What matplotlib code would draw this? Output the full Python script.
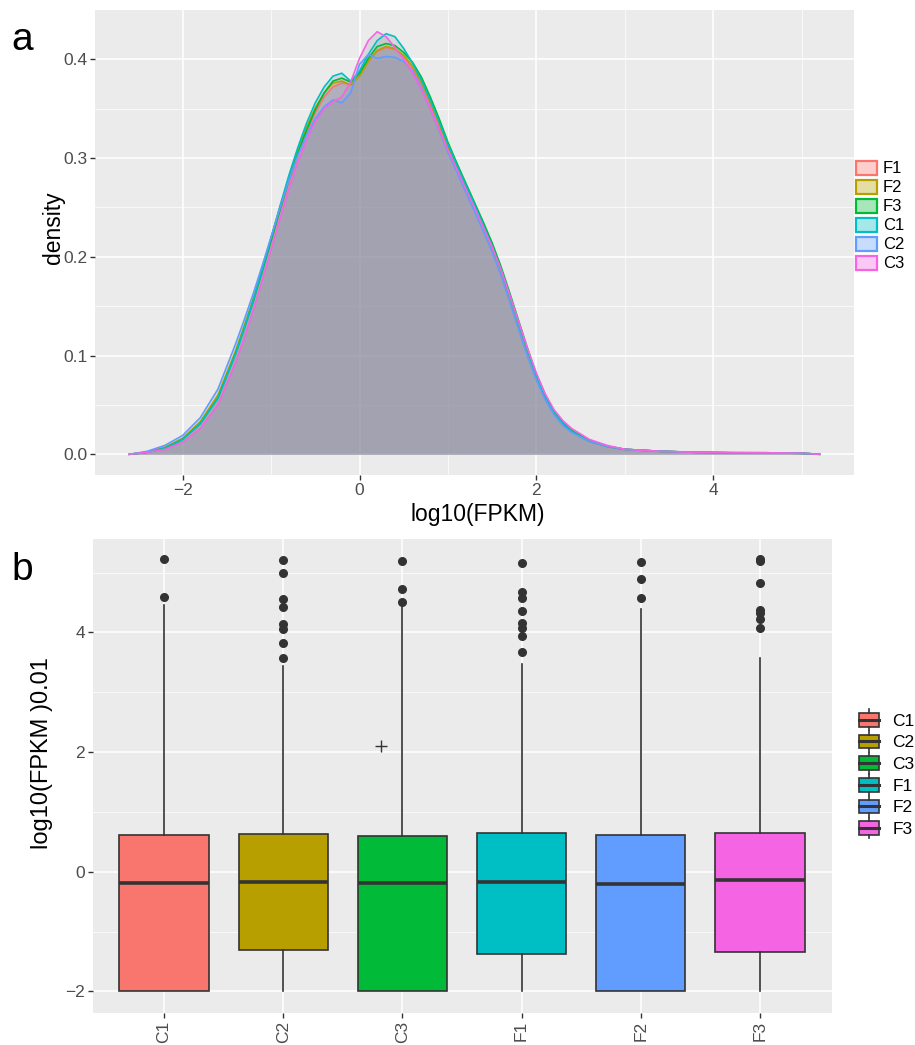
import numpy as np
import matplotlib
matplotlib.use('Agg')
import matplotlib.pyplot as plt
from matplotlib.patches import Patch, Rectangle
from matplotlib.lines import Line2D
from matplotlib.legend_handler import HandlerBase
from matplotlib.colors import to_rgba

plt.rcParams['font.family'] = ['Liberation Sans', 'DejaVu Sans']

# ---- panel a: density of log10(FPKM) per sample ----
xgrid = [-2.6, -2.4, -2.2, -2.0, -1.8, -1.6,
         -1.4, -1.3, -1.2, -1.1, -1.0, -0.9, -0.8, -0.7, -0.6, -0.5,
         -0.4, -0.3, -0.2, -0.1, 0.0, 0.1, 0.2, 0.3, 0.4, 0.5,
         0.6, 0.7, 0.8, 0.9, 1.0, 1.1, 1.2, 1.3,
         1.4, 1.5, 1.6, 1.7, 1.8, 1.9, 2.0, 2.1, 2.2, 2.3, 2.4,
         2.6, 2.8, 3.0,
         3.4, 3.8, 4.2, 4.6, 5.0, 5.2]

dens_F1 = [0.000, 0.002, 0.007, 0.016, 0.032, 0.058,
           0.103, 0.129, 0.156, 0.186, 0.216, 0.246, 0.275, 0.302, 0.326, 0.346,
           0.362, 0.372, 0.376, 0.375, 0.384, 0.398, 0.408, 0.412, 0.410, 0.403,
           0.391, 0.375, 0.355, 0.333, 0.311, 0.291, 0.271, 0.251,
           0.231, 0.210, 0.186, 0.159, 0.131, 0.104, 0.079, 0.058, 0.042, 0.031, 0.023,
           0.013, 0.008, 0.005,
           0.003, 0.002, 0.0015, 0.0015, 0.001, 0.000]
dens_F2 = [0.000, 0.002, 0.007, 0.016, 0.033, 0.060,
           0.105, 0.131, 0.158, 0.188, 0.219, 0.250, 0.280, 0.307, 0.331, 0.351,
           0.366, 0.376, 0.378, 0.374, 0.383, 0.398, 0.409, 0.413, 0.411, 0.404,
           0.393, 0.377, 0.357, 0.335, 0.312, 0.292, 0.272, 0.252,
           0.231, 0.209, 0.185, 0.158, 0.130, 0.103, 0.078, 0.057, 0.041, 0.030, 0.023,
           0.013, 0.008, 0.005,
           0.003, 0.002, 0.0015, 0.0012, 0.001, 0.000]
dens_F3 = [0.000, 0.002, 0.006, 0.015, 0.031, 0.057,
           0.102, 0.128, 0.155, 0.185, 0.216, 0.247, 0.277, 0.304, 0.328, 0.349,
           0.366, 0.378, 0.381, 0.377, 0.386, 0.401, 0.413, 0.416, 0.414, 0.407,
           0.397, 0.382, 0.362, 0.340, 0.316, 0.295, 0.275, 0.255,
           0.235, 0.214, 0.190, 0.163, 0.135, 0.107, 0.081, 0.060, 0.043, 0.032, 0.024,
           0.014, 0.008, 0.005,
           0.003, 0.002, 0.0015, 0.0015, 0.001, 0.000]
dens_C1 = [0.000, 0.002, 0.006, 0.015, 0.031, 0.057,
           0.102, 0.128, 0.156, 0.187, 0.219, 0.251, 0.282, 0.310, 0.335, 0.356,
           0.372, 0.383, 0.386, 0.378, 0.388, 0.405, 0.419, 0.426, 0.423, 0.411,
           0.396, 0.379, 0.359, 0.337, 0.314, 0.293, 0.273, 0.253,
           0.232, 0.211, 0.187, 0.160, 0.132, 0.105, 0.079, 0.058, 0.042, 0.031, 0.023,
           0.013, 0.008, 0.005,
           0.003, 0.002, 0.0015, 0.0015, 0.001, 0.000]
dens_C2 = [0.000, 0.003, 0.009, 0.019, 0.037, 0.066,
           0.112, 0.137, 0.163, 0.191, 0.220, 0.249, 0.277, 0.302, 0.323, 0.340,
           0.352, 0.359, 0.356, 0.366, 0.395, 0.405, 0.401, 0.403, 0.402, 0.398,
           0.388, 0.371, 0.350, 0.328, 0.306, 0.286, 0.266, 0.246,
           0.226, 0.205, 0.181, 0.154, 0.126, 0.099, 0.075, 0.055, 0.040, 0.029, 0.022,
           0.013, 0.008, 0.005,
           0.003, 0.002, 0.0015, 0.0015, 0.001, 0.000]
dens_C3 = [0.000, 0.002, 0.005, 0.012, 0.026, 0.050,
           0.093, 0.118, 0.146, 0.176, 0.207, 0.238, 0.268, 0.295, 0.318, 0.337,
           0.350, 0.357, 0.362, 0.377, 0.401, 0.419, 0.428, 0.423, 0.412, 0.400,
           0.386, 0.369, 0.350, 0.329, 0.308, 0.289, 0.269, 0.250,
           0.230, 0.210, 0.187, 0.161, 0.134, 0.107, 0.082, 0.061, 0.045, 0.034, 0.026,
           0.015, 0.009, 0.005,
           0.003, 0.002, 0.0018, 0.0015, 0.001, 0.000]

dens_names = ['F1', 'F2', 'F3', 'C1', 'C2', 'C3']
dens_values = [dens_F1, dens_F2, dens_F3, dens_C1, dens_C2, dens_C3]
dens_colors = ['#F8766D', '#B79F00', '#00BA38', '#00BFC4', '#619CFF', '#F564E3']

# ---- panel b: boxplot summary per sample ----
box_names = ['C1', 'C2', 'C3', 'F1', 'F2', 'F3']
box_colors = ['#F8766D', '#B79F00', '#00BA38', '#00BFC4', '#619CFF', '#F564E3']
box_q1 = [-2.0, -1.30, -2.0, -1.38, -2.0, -1.34]
box_med = [-0.18, -0.165, -0.19, -0.175, -0.20, -0.14]
box_q3 = [0.615, 0.627, 0.605, 0.64, 0.61, 0.655]
box_lo = [-2.0, -2.0, -2.0, -2.0, -2.0, -2.0]
box_hi = [4.46, 3.44, 4.46, 3.47, 4.39, 3.58]
box_out = [
    [4.59, 5.22],
    [3.58, 3.82, 4.05, 4.14, 4.42, 4.56, 5.0, 5.21],
    [4.51, 4.73, 5.19],
    [3.68, 3.94, 4.08, 4.15, 4.36, 4.57, 4.67, 5.16],
    [4.57, 4.89, 5.18],
    [4.07, 4.22, 4.32, 4.38, 4.82, 5.2, 5.22],
]
cross_x = [2.82]
cross_y = [2.10]

W, H = 915, 1045
fig = plt.figure(figsize=(W / 100, H / 100), dpi=100)
fig.patch.set_facecolor('white')

def px_axes(l, t, r, b):
    return fig.add_axes([l / W, 1 - b / H, (r - l) / W, (b - t) / H])

def gg_style(ax):
    ax.set_facecolor('#EBEBEB')
    for s in ax.spines.values():
        s.set_visible(False)
    ax.grid(True, which='major', color='white', lw=1.1)
    ax.grid(True, which='minor', color='white', lw=0.5)
    ax.set_axisbelow(True)
    ax.tick_params(which='major', length=3.5, width=1, color='#333333',
                   labelcolor='#4D4D4D', labelsize=12.5, pad=2)
    ax.tick_params(which='minor', length=0)

# panel a
ax1 = px_axes(95, 10, 854, 475)
gg_style(ax1)
for name, vals, col in zip(dens_names, dens_values, dens_colors):
    ax1.fill_between(xgrid, vals, 0, color='#8A8A9C', alpha=0.2, lw=0)
    ax1.plot(xgrid, vals, color=col, lw=1.2)
ax1.set_xlim(-2.99, 5.59)
ax1.set_ylim(-0.021, 0.45)
ax1.set_xticks([-2, 0, 2, 4])
ax1.set_xticks([-1, 1, 3, 5], minor=True)
ax1.set_yticks([0.0, 0.1, 0.2, 0.3, 0.4])
ax1.set_yticks([0.05, 0.15, 0.25, 0.35], minor=True)
ax1.set_yticklabels(['0.0', '0.1', '0.2', '0.3', '0.4'])

handles1 = [Patch(facecolor=to_rgba(c, 0.35), edgecolor=c, lw=1.6) for c in dens_colors]
fig.legend(handles1, dens_names, loc='center left',
           bbox_to_anchor=(853 / W, 1 - 216 / H), frameon=False,
           fontsize=12, handlelength=1.25, handleheight=0.9,
           labelspacing=0.2, handletextpad=0.35, borderpad=0.2, borderaxespad=0)

fig.text(478 / W, 1 - 514 / H, 'log10(FPKM)', fontsize=16.5, ha='center', va='center')
fig.text(54 / W, 1 - 228 / H, 'density', fontsize=16.5, rotation=90, ha='center', va='center')
fig.text(22 / W, 1 - 40 / H, 'a', fontsize=28, ha='center', va='center')

# panel b
ax2 = px_axes(92.5, 539, 831.5, 1013)
gg_style(ax2)
stats = []
for i, n in enumerate(box_names):
    stats.append(dict(label=n, q1=box_q1[i], med=box_med[i], q3=box_q3[i],
                      whislo=box_lo[i], whishi=box_hi[i], fliers=box_out[i]))
pos = np.arange(1, len(box_names) + 1)
bp = ax2.bxp(stats, positions=pos, widths=0.75, patch_artist=True, showcaps=False,
             boxprops=dict(edgecolor='#333333', lw=1.2),
             medianprops=dict(color='#333333', lw=2.6, solid_capstyle='butt'),
             whiskerprops=dict(color='#333333', lw=1.2),
             flierprops=dict(marker='o', markerfacecolor='#333333',
                             markeredgecolor='#333333', markersize=5.5))
for patch, c in zip(bp['boxes'], box_colors):
    patch.set_facecolor(c)
ax2.plot(cross_x, cross_y, marker='+', color='#333333', ms=8, mew=1, ls='none')
ax2.set_xlim(0.4, 6.6)
ax2.set_ylim(-2.36, 5.56)
ax2.set_xticks(pos)
ax2.set_xticklabels(box_names, rotation=90)
ax2.set_yticks([-2, 0, 2, 4])
ax2.set_yticks([-1, 1, 3, 5], minor=True)
ax2.tick_params(axis='x', which='minor', length=0)

class BoxKey(HandlerBase):
    def create_artists(self, legend, orig, xd, yd, width, height, fontsize, trans):
        x0, y0 = -xd, -yd
        fc = orig.get_facecolor()
        box = Rectangle((x0, y0), width, height, facecolor=fc,
                        edgecolor='#333333', lw=1.2, transform=trans)
        mid = Line2D([x0, x0 + width], [y0 + height / 2] * 2, color='#333333',
                     lw=2.2, transform=trans)
        cx = x0 + width / 2
        w_up = Line2D([cx, cx], [y0 + height, y0 + height + 0.25 * height],
                      color='#333333', lw=1.2, transform=trans)
        w_dn = Line2D([cx, cx], [y0, y0 - 0.25 * height],
                      color='#333333', lw=1.2, transform=trans)
        return [box, mid, w_up, w_dn]

handles2 = [Patch(facecolor=c) for c in box_colors]
fig.legend(handles2, box_names, loc='center left',
           bbox_to_anchor=(856 / W, 1 - 775 / H), frameon=False,
           fontsize=12.5, handlelength=1.15, handleheight=0.85,
           labelspacing=0.33, handletextpad=0.75, borderpad=0.2, borderaxespad=0,
           handler_map={Patch: BoxKey()})

fig.text(42 / W, 1 - 753 / H, 'log10(FPKM )0.01', fontsize=17, rotation=90,
         ha='center', va='center')
fig.text(22 / W, 1 - 570 / H, 'b', fontsize=28, ha='center', va='center')

fig.savefig('out.png', dpi=100)
